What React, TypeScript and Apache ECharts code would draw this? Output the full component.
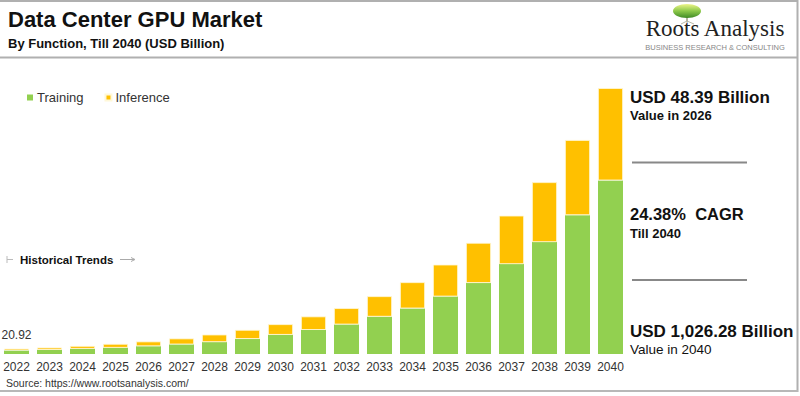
import React, { useEffect, useRef } from "react";
import * as echarts from "echarts";

const years = ["2022","2023","2024","2025","2026","2027","2028","2029","2030","2031","2032","2033","2034","2035","2036","2037","2038","2039","2040"];
const training = [13.5, 16, 20, 24, 30, 37, 46, 58, 74, 93, 114, 144, 176, 222, 274, 347, 432, 536, 670];
const inference = [7.42, 9, 11, 15, 18.39, 23, 29, 35, 41, 52, 63, 79, 101, 123, 155, 187, 231, 290, 356.28];
const firstLabel = "20.92";

const FONT = "Liberation Sans, Arial, sans-serif";
const GREEN = "#92D050";
const YELLOW = "#FFC000";

export default function App() {
  const ref = useRef<HTMLDivElement>(null);
  useEffect(() => {
    document.body.style.margin = "0";
    const chart = echarts.init(ref.current!, null, { renderer: "svg" });
    const txt = (x: number, y: number, text: string, size: number, weight: string, extra: any = {}) => ({
      type: "text",
      x,
      y,
      style: {
        text,
        fontSize: size,
        fontWeight: weight,
        fontFamily: FONT,
        fill: "#111",
        verticalAlign: "middle",
        align: "left",
        ...extra,
      },
      z: 10,
    });
    const line = (x1: number, y1: number, x2: number, y2: number, stroke: string, w: number) => ({
      type: "line",
      shape: { x1, y1, x2, y2 },
      style: { stroke, lineWidth: w },
      z: 10,
    });
    chart.setOption({
      animation: false,
      backgroundColor: "#fff",
      textStyle: { fontFamily: FONT },
      grid: { left: 0, right: 173, top: 69, bottom: 42 },
      legend: {
        left: 22,
        top: 86,
        icon: "rect",
        itemWidth: 6,
        itemHeight: 6,
        itemGap: 21,
        textStyle: { fontSize: 13, color: "#333", fontFamily: FONT, padding: [0, 0, 0, -1] },
        data: ["Training", "Inference"],
      },
      xAxis: {
        type: "category",
        data: years,
        axisLine: { show: false },
        axisTick: { show: false },
        axisLabel: { fontSize: 12, color: "#333", margin: 7, fontFamily: FONT, interval: 0 },
      },
      yAxis: {
        type: "value",
        min: 0,
        max: 1100,
        show: false,
        splitLine: { show: false },
      },
      series: [
        {
          name: "Training",
          type: "bar",
          stack: "total",
          data: training,
          barWidth: 25,
          itemStyle: { color: GREEN },
        },
        {
          name: "Inference",
          type: "bar",
          stack: "total",
          barWidth: 25,
          data: inference.map((v, i) =>
            i === 0
              ? {
                  value: v,
                  label: {
                    show: true,
                    position: "top",
                    distance: 8,
                    formatter: firstLabel,
                    fontSize: 12,
                    color: "#333",
                    fontFamily: FONT,
                  },
                }
              : v
          ),
          itemStyle: { color: YELLOW, borderColor: "#fff8d8", borderWidth: 0.8 },
        },
      ],
      graphic: [
        // frame
        line(0, 1, 798, 1, "#b0b0b0", 2),
        line(0, 57.5, 798, 57.5, "#b0b0b0", 2),
        line(797.5, 0, 797.5, 392, "#b0b0b0", 2),
        line(0, 391, 798, 391, "#b8b8b8", 2),
        // title
        txt(8, 19, "Data Center GPU Market", 22, "bold"),
        txt(8, 43, "By Function, Till 2040 (USD Billion)", 13, "bold"),
        // logo
        line(687, 13, 687, 22, "#9a9a80", 1.5),
        line(687, 21, 681, 24, "#b8b8a8", 1),
        line(687, 21, 694, 24, "#b8b8a8", 1),
        {
          type: "ellipse",
          shape: { cx: 687, cy: 11, rx: 14, ry: 7 },
          style: {
            fill: new echarts.graphic.LinearGradient(0, 0, 0, 1, [
              { offset: 0, color: "#eef58a" },
              { offset: 0.5, color: "#8cc84a" },
              { offset: 1, color: "#3f8a26" },
            ]),
          },
          z: 10,
        },
        txt(715, 28, "Roots Analysis", 23, "normal", {
          align: "center",
          fontFamily: "Liberation Serif, Times New Roman, serif",
          fill: "#222",
        }),
        txt(715, 47, "BUSINESS RESEARCH & CONSULTING", 7.5, "normal", {
          align: "center",
          fill: "#888",
        }),
        // historical trends
        line(7, 256, 7, 263, "#bbb", 1),
        line(7, 259.5, 13, 259.5, "#bbb", 1),
        txt(20, 259.5, "Historical Trends", 11.5, "bold"),
        line(120, 259.5, 134, 259.5, "#aaa", 1),
        {
          type: "polyline",
          shape: { points: [[131, 257.5], [135, 259.5], [131, 261.5]] },
          style: { stroke: "#aaa", lineWidth: 1, fill: "none" },
          z: 10,
        },
        // right panel
        txt(630, 97, "USD 48.39 Billion", 17, "bold"),
        txt(630, 115, "Value in 2026", 13, "bold"),
        line(632, 162.5, 747, 162.5, "#888", 2),
        txt(630, 214, "24.38%  CAGR", 16.5, "bold"),
        txt(630, 233, "Till 2040", 13, "bold"),
        line(632, 280, 747, 280, "#888", 2),
        txt(630, 331, "USD 1,026.28 Billion", 17, "bold"),
        txt(630, 349, "Value in 2040", 13.5, "normal", { fill: "#111" }),
        // source
        txt(6, 382.5, "Source: https://www.rootsanalysis.com/", 10.5, "normal", { fill: "#333" }),
      ],
    });
    return () => chart.dispose();
  }, []);
  return <div ref={ref} style={{ width: 800, height: 396 }} />;
}
